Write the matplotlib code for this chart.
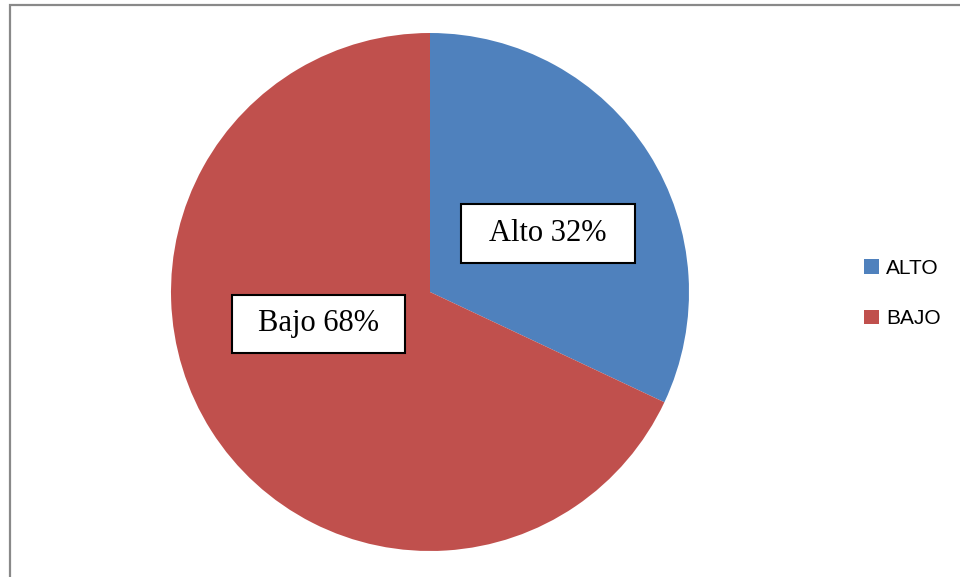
import matplotlib.pyplot as plt
from matplotlib.patches import Rectangle

W, H = 960, 577

categories = ["ALTO", "BAJO"]
values = [32, 68]
box_labels = ["Alto 32%", "Bajo 68%"]
colors = ["#4F81BD", "#C0504D"]

fig = plt.figure(figsize=(W / 100, H / 100), dpi=100)

# marco gris del grafico (solo se ven los lados izquierdo y superior)
fig.patches.append(Rectangle((9.5 / W, -0.1), 1.2, 1 - 4.5 / H + 0.1,
                             transform=fig.transFigure, fill=False,
                             edgecolor="#898989", linewidth=1.6))

# pastel: centro (430, 292), radio 259 px
r = 259
ax = fig.add_axes([(430 - r) / W, (H - 292 - r) / H, 2 * r / W, 2 * r / H])
wedges, _ = ax.pie(values, colors=colors, startangle=90, counterclock=False,
                   radius=1, wedgeprops={"linewidth": 0})
ax.set_xlim(-1, 1)
ax.set_ylim(-1, 1)
ax.set_aspect("equal")
ax.axis("off")

# etiquetas con recuadro
boxes = [(461, 204, 635, 263), (232, 295, 405, 353)]
for (x0, y0, x1, y1), txt in zip(boxes, box_labels):
    fig.patches.append(Rectangle((x0 / W, 1 - y1 / H), (x1 - x0) / W, (y1 - y0) / H,
                                 transform=fig.transFigure, facecolor="white",
                                 edgecolor="black", linewidth=1.5, zorder=5))
    fig.text((x0 + x1) / 2 / W, 1 - (y0 + y1) / 2 / H, txt, ha="center", va="center",
             family="Liberation Serif", fontsize=22, zorder=6)

leg = fig.legend(wedges, categories, loc="upper left",
                 bbox_to_anchor=(864 / W, 1 - 259 / H), frameon=False,
                 prop={"family": "Liberation Sans", "size": 15},
                 handlelength=0.7, handleheight=0.7, handletextpad=0.35,
                 labelspacing=1.5, borderpad=0, borderaxespad=0)

fig.savefig("out.png", dpi=100)
